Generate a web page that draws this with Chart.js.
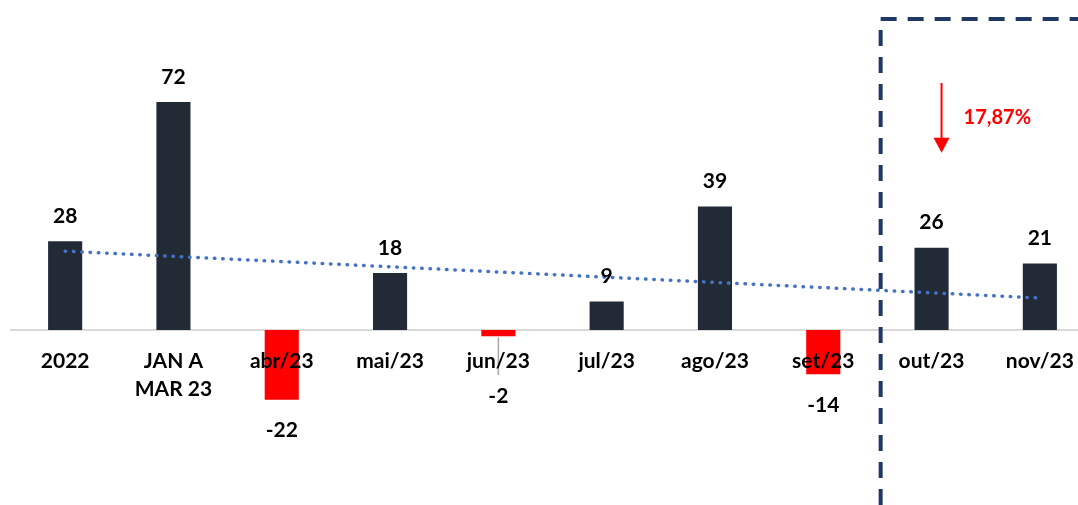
<!DOCTYPE html>
<html>
<head>
<meta charset="utf-8">
<script src="https://cdn.jsdelivr.net/npm/chart.js@4"></script>
<style>
  html, body { margin: 0; padding: 0; background: #fff; overflow: hidden; }
  #wrap { width: 1094px; height: 505px; position: relative; }
</style>
</head>
<body>
<div id="wrap"><canvas id="mainChart"></canvas></div>
<script>
// valores
const categories = ['2022', ['JAN A', 'MAR 23'], 'abr/23', 'mai/23', 'jun/23', 'jul/23', 'ago/23', 'set/23', 'out/23', 'nov/23'];
const values = [28, 72, -22, 18, -2, 9, 39, -14, 26, 21];
// linha de tendência (início e fim)
const trendValues = [24.9, null, null, null, null, null, null, null, null, 10.1];
const changeLabel = '17,87%';

const FONT = 'Lato, "Open Sans", sans-serif';

// rótulos de valor
const valueLabels = {
    id: 'valueLabels',
    afterDatasetsDraw(chart) {
        const ctx = chart.ctx;
        const meta = chart.getDatasetMeta(0);
        const zero = chart.scales.y.getPixelForValue(0);
        ctx.save();
        ctx.font = 'bold 21px ' + FONT;
        ctx.fillStyle = '#000';
        ctx.textAlign = 'center';
        ctx.textBaseline = 'middle';
        meta.data.forEach((bar, i) => {
            const v = values[i];
            let y;
            if (v >= 0) {
                y = bar.y - 25;
            } else {
                y = bar.y + 31;
                if (y < zero + 55) {
                    // rótulo deslocado com linha de chamada
                    const ly = zero + 66;
                    ctx.strokeStyle = '#a6a6a6';
                    ctx.lineWidth = 1.5;
                    ctx.beginPath();
                    ctx.moveTo(bar.x, bar.y + 1);
                    ctx.lineTo(bar.x, ly - 21);
                    ctx.stroke();
                    y = ly;
                }
            }
            ctx.fillText(String(v), bar.x, y);
        });
        ctx.restore();
    }
};

// caixa tracejada + seta de variação
const highlightBox = {
    id: 'highlightBox',
    afterDraw(chart) {
        const ctx = chart.ctx;
        const xs = chart.scales.x;
        const ys = chart.scales.y;
        const bx = xs.getPixelForValue(7.53);
        const top = chart.chartArea.top + 19;
        ctx.save();
        ctx.strokeStyle = '#1f3864';
        ctx.lineWidth = 4;
        ctx.setLineDash([16, 11]);
        ctx.beginPath();
        ctx.moveTo(bx, chart.height);
        ctx.lineTo(bx, top);
        ctx.lineTo(chart.width, top);
        ctx.stroke();
        ctx.setLineDash([]);

        // seta
        const ax = xs.getPixelForValue(8) + 10;
        const y1 = ys.getPixelForValue(78);
        const y2 = ys.getPixelForValue(56);
        ctx.strokeStyle = '#ff0000';
        ctx.fillStyle = '#ff0000';
        ctx.lineWidth = 2;
        ctx.beginPath();
        ctx.moveTo(ax, y1);
        ctx.lineTo(ax, y2 - 12);
        ctx.stroke();
        ctx.beginPath();
        ctx.moveTo(ax - 8, y2 - 15);
        ctx.lineTo(ax + 8, y2 - 15);
        ctx.lineTo(ax, y2);
        ctx.closePath();
        ctx.fill();

        ctx.font = 'bold 20px ' + FONT;
        ctx.textAlign = 'left';
        ctx.textBaseline = 'middle';
        ctx.fillText(changeLabel, ax + 22, ys.getPixelForValue(67));
        ctx.restore();
    }
};

new Chart(document.getElementById('mainChart'), {
    type: 'bar',
    data: {
        labels: categories,
        datasets: [{
            type: 'bar',
            data: values,
            backgroundColor: values.map(v => v < 0 ? '#ff0000' : '#222a35'),
            barPercentage: 0.315,
            categoryPercentage: 1,
            order: 1
        }, {
            type: 'line',
            data: trendValues,
            spanGaps: true,
            borderColor: '#4472c4',
            borderWidth: 3.5,
            borderCapStyle: 'round',
            borderDash: [0.5, 7.8],
            pointRadius: 0,
            tension: 0,
            fill: false,
            order: 0
        }]
    },
    options: {
        responsive: true,
        maintainAspectRatio: false,
        animation: false,
        layout: {
            padding: { left: 11, right: 0, top: 0, bottom: 0 }
        },
        plugins: {
            legend: { display: false },
            tooltip: { enabled: false }
        },
        scales: {
            x: {
                position: { y: 0 },
                grid: { display: false, drawTicks: false },
                border: { display: true, color: '#d9d9d9', width: 2 },
                ticks: {
                    z: 1,
                    color: '#000',
                    padding: 17,
                    maxRotation: 0,
                    autoSkip: false,
                    font: { family: FONT, size: 21, weight: 'bold', lineHeight: 1.35 }
                }
            },
            y: {
                display: false,
                min: -55.26,
                max: 104.21
            }
        }
    },
    plugins: [valueLabels, highlightBox]
});
</script>
</body>
</html>
